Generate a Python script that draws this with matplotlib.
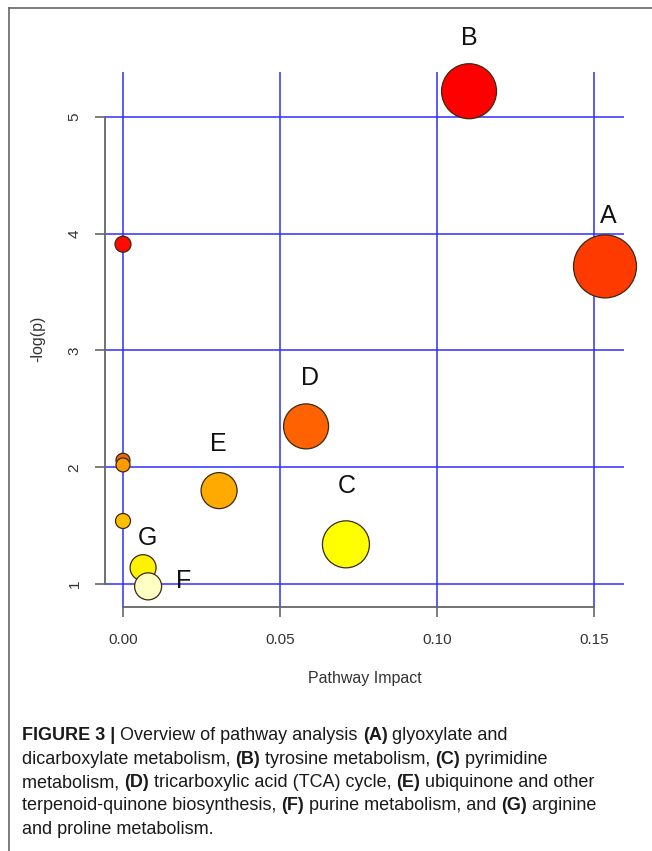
import matplotlib.pyplot as plt

# ── Pathway data ─────────────────────────────────────────────────────────────
impact = [0.0, 0.1102, 0.1535, 0.0583, 0.0306, 0.0710, 0.0, 0.0, 0.0, 0.0064, 0.0080]
neglogp = [3.91, 5.22, 3.72, 2.35, 1.80, 1.34, 2.06, 2.02, 1.54, 1.14, 0.98]
radius_px = [8, 27.5, 31.5, 22.5, 18, 23.5, 7, 7, 7.5, 13, 13.5]
colors = ["#FF0A00", "#FF0000", "#FF3A00", "#FF6200", "#FFAA00", "#FFFF00",
          "#E86A10", "#FF9A00", "#FFC000", "#FFF200", "#FFFFC4"]
labels = ["", "B", "A", "D", "E", "C", "", "", "", "G", "F"]
label_offset = [(0, 0), (0, 53), (3, 50), (4, 48), (-1, 47), (1, 58),
                (0, 0), (0, 0), (0, 0), (4, 30), (36, 5)]

xticks = [0.0, 0.05, 0.10, 0.15]
xticklabels = ["0.00", "0.05", "0.10", "0.15"]
yticks = [1, 2, 3, 4, 5]

caption = [
    [("FIGURE 3 | ", True), ("Overview of pathway analysis ", False), ("(A)", True),
     (" glyoxylate and", False)],
    [("dicarboxylate metabolism, ", False), ("(B)", True), (" tyrosine metabolism, ", False),
     ("(C)", True), (" pyrimidine", False)],
    [("metabolism, ", False), ("(D)", True), (" tricarboxylic acid (TCA) cycle, ", False),
     ("(E)", True), (" ubiquinone and other", False)],
    [("terpenoid-quinone biosynthesis, ", False), ("(F)", True), (" purine metabolism, and ", False),
     ("(G)", True), (" arginine", False)],
    [("and proline metabolism.", False)],
]

W, H, DPI = 652, 851, 100
fig = plt.figure(figsize=(W / DPI, H / DPI), dpi=DPI)
plt.rcParams["font.family"] = ["Liberation Sans", "DejaVu Sans"]

# frame around the figure (top + left only, like the scan)
fig.add_artist(plt.Line2D([9 / W, 9 / W], [0, 1 - 8 / H], transform=fig.transFigure,
                          color="#666666", lw=1.2))
fig.add_artist(plt.Line2D([9 / W, 1], [1 - 8 / H, 1 - 8 / H], transform=fig.transFigure,
                          color="#666666", lw=1.2))

ax = fig.add_axes([105 / W, 1 - 607 / H, (624 - 105) / W, (607 - 72) / H])
ax.set_xlim(-0.00573, 0.15955)
ax.set_ylim(0.8034, 5.3846)

for xv in xticks:
    ax.axvline(xv, color="#3030FF", lw=1.3, alpha=0.85, zorder=1)
for yv in yticks:
    ax.axhline(yv, color="#3030FF", lw=1.3, alpha=0.85, zorder=1)

sizes = [(2 * r * 72 / DPI) ** 2 for r in radius_px]
ax.scatter(impact, neglogp, s=sizes, c=colors, edgecolors="#3a2a10", linewidths=0.9,
           zorder=5, clip_on=False)

for x, y, lab, off in zip(impact, neglogp, labels, label_offset):
    if lab:
        ax.annotate(lab, (x, y), xytext=off, textcoords="offset pixels",
                    ha="center", va="center", fontsize=18, color="#111111",
                    zorder=6, annotation_clip=False)

for s in ["top", "right"]:
    ax.spines[s].set_visible(False)
for s in ["left", "bottom"]:
    ax.spines[s].set_color("#666666")
    ax.spines[s].set_linewidth(1.3)
ax.spines["left"].set_bounds(1, 5)
ax.spines["bottom"].set_bounds(0, 0.15)

ax.set_xticks(xticks)
ax.set_xticklabels(xticklabels)
ax.set_yticks(yticks)
ax.tick_params(axis="both", length=7, width=1.2, color="#666666", labelcolor="#333333",
               labelsize=11)
ax.tick_params(axis="x", pad=12)
ax.tick_params(axis="y", pad=10)
for t in ax.get_yticklabels():
    t.set_rotation(90)
    t.set_va("center")

fig.text(365 / W, 1 - 678 / H, "Pathway Impact", ha="center", va="center",
         fontsize=11.5, color="#333333")
fig.text(38 / W, 1 - 339 / H, "-log(p)", ha="center", va="center", rotation=90,
         fontsize=11.5, color="#333333")

# caption with mixed bold / regular runs
renderer = fig.canvas.get_renderer()
y0 = 736
for i, line in enumerate(caption):
    xpx = 22
    for txt, bold in line:
        t = fig.text(xpx / W, 1 - (y0 + 23.3 * i) / H, txt, ha="left", va="center",
                     fontsize=13, color="#1a1a1a",
                     fontweight="bold" if bold else "normal")
        bb = t.get_window_extent(renderer=renderer)
        xpx += bb.width

fig.savefig("out.png", dpi=DPI)
